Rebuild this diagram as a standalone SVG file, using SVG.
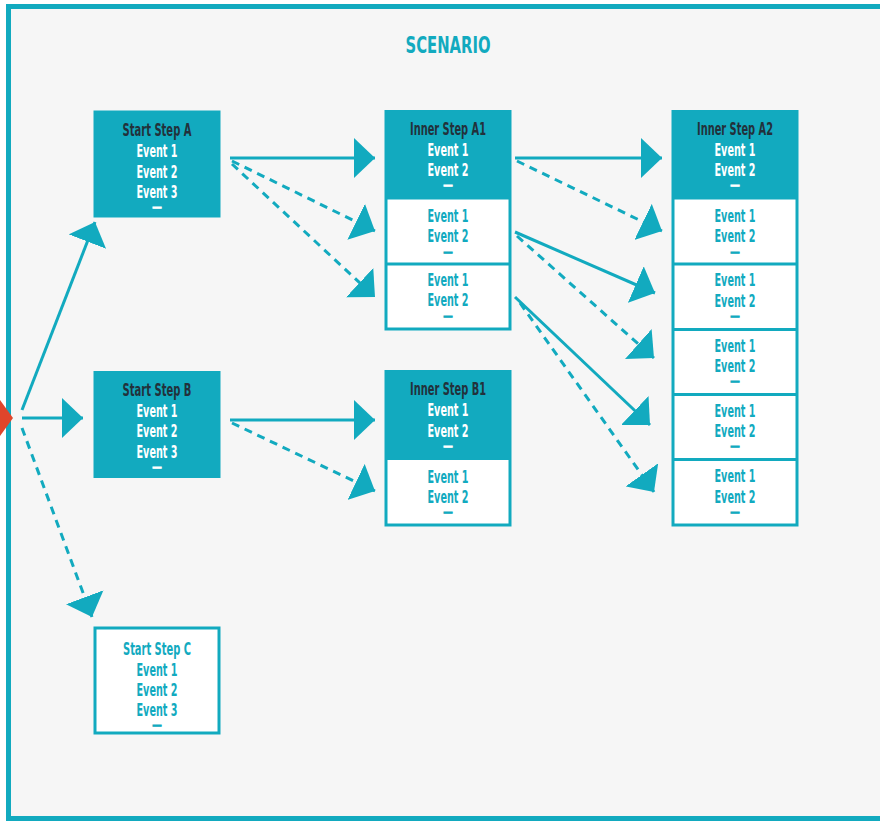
<svg xmlns="http://www.w3.org/2000/svg" width="880" height="822" viewBox="0 0 880 822">
<style>
.t{font-family:"DejaVu Sans Condensed","DejaVu Sans","Liberation Sans",sans-serif;font-weight:bold;font-size:17px;text-anchor:middle}
.dk{fill:#22313b}.w{fill:#ffffff}.tl{fill:#12aabf}
.d{font-size:8px;stroke-width:1}
.w.d{stroke:#ffffff}.tl.d{stroke:#12aabf}
.hd{fill:#12aabf}
.box{fill:#ffffff;stroke:#12aabf;stroke-width:3}
.sep{stroke:#12aabf;stroke-width:3}
.ln{stroke:#12aabf;stroke-width:3;fill:none;marker-end:url(#ah)}
.ds{stroke-dasharray:8 6}
</style>
<defs>
<marker id="ah" viewBox="0 0 21 40" refX="21" refY="20" markerWidth="21" markerHeight="40" markerUnits="userSpaceOnUse" orient="auto">
<path d="M0,0 L21,20 L0,40 z" fill="#12aabf"/>
</marker>
</defs>
<rect x="0" y="0" width="880" height="822" fill="#ffffff"/>
<rect x="8.5" y="6.5" width="900" height="812" fill="#f6f6f6" stroke="#12aabf" stroke-width="5"/>
<polygon points="0,400 13,418 0,436" fill="#e0452b"/>
<text class="t tl" x="448" y="53" style="font-size:23px" textLength="85" lengthAdjust="spacingAndGlyphs">SCENARIO</text>

<g id="connectors">
<line class="ln" x1="22" y1="410" x2="95" y2="222"/>
<line class="ln" x1="22" y1="418" x2="83" y2="418"/>
<line class="ln ds" x1="22" y1="428" x2="92" y2="617"/>
<line class="ln" x1="230" y1="158" x2="375" y2="158"/>
<line class="ln ds" x1="232" y1="161" x2="375" y2="231"/>
<line class="ln ds" x1="232" y1="164" x2="375" y2="297"/>
<line class="ln" x1="230" y1="420" x2="375" y2="420"/>
<line class="ln ds" x1="232" y1="423" x2="375" y2="491"/>
<line class="ln" x1="515" y1="158" x2="662" y2="158"/>
<line class="ln ds" x1="517" y1="161" x2="662" y2="231"/>
<line class="ln" x1="515" y1="232" x2="655" y2="293"/>
<line class="ln ds" x1="517" y1="236" x2="654" y2="358"/>
<line class="ln" x1="515" y1="297" x2="650" y2="425"/>
<line class="ln ds" x1="520" y1="303" x2="654" y2="492"/>
</g>

<g id="start-step-a">
<rect x="93.5" y="110.5" width="127" height="107" class="hd"/>
<text class="t dk" x="157" y="136" textLength="69" lengthAdjust="spacingAndGlyphs">Start Step A</text>
<text class="t w" x="157" y="157" textLength="41" lengthAdjust="spacingAndGlyphs">Event 1</text>
<text class="t w" x="157" y="178" textLength="41" lengthAdjust="spacingAndGlyphs">Event 2</text>
<text class="t w" x="157" y="198" textLength="41" lengthAdjust="spacingAndGlyphs">Event 3</text>
<text class="t w d" x="157" y="210" textLength="9" lengthAdjust="spacingAndGlyphs">—</text>
</g>

<g id="start-step-b">
<rect x="93.5" y="371" width="127" height="107" class="hd"/>
<text class="t dk" x="157" y="396" textLength="69" lengthAdjust="spacingAndGlyphs">Start Step B</text>
<text class="t w" x="157" y="417" textLength="41" lengthAdjust="spacingAndGlyphs">Event 1</text>
<text class="t w" x="157" y="437" textLength="41" lengthAdjust="spacingAndGlyphs">Event 2</text>
<text class="t w" x="157" y="458" textLength="41" lengthAdjust="spacingAndGlyphs">Event 3</text>
<text class="t w d" x="157" y="470" textLength="9" lengthAdjust="spacingAndGlyphs">—</text>
</g>

<g id="start-step-c">
<rect x="95" y="628" width="124" height="105" class="box"/>
<text class="t tl" x="157" y="655" textLength="68" lengthAdjust="spacingAndGlyphs">Start Step C</text>
<text class="t tl" x="157" y="676" textLength="41" lengthAdjust="spacingAndGlyphs">Event 1</text>
<text class="t tl" x="157" y="696" textLength="41" lengthAdjust="spacingAndGlyphs">Event 2</text>
<text class="t tl" x="157" y="716" textLength="41" lengthAdjust="spacingAndGlyphs">Event 3</text>
<text class="t tl d" x="157" y="728" textLength="9" lengthAdjust="spacingAndGlyphs">—</text>
</g>

<g id="inner-step-a1">
<rect x="386" y="111.5" width="124" height="217.5" class="box"/>
<rect x="386" y="111.5" width="124" height="88" class="hd"/>
<line x1="386" y1="264" x2="510" y2="264" class="sep"/>
<text class="t dk" x="448" y="135" textLength="76" lengthAdjust="spacingAndGlyphs">Inner Step A1</text>
<text class="t w" x="448" y="156" textLength="41" lengthAdjust="spacingAndGlyphs">Event 1</text>
<text class="t w" x="448" y="176" textLength="41" lengthAdjust="spacingAndGlyphs">Event 2</text>
<text class="t w d" x="448" y="188" textLength="9" lengthAdjust="spacingAndGlyphs">—</text>
<text class="t tl" x="448" y="222" textLength="41" lengthAdjust="spacingAndGlyphs">Event 1</text>
<text class="t tl" x="448" y="242" textLength="41" lengthAdjust="spacingAndGlyphs">Event 2</text>
<text class="t tl d" x="448" y="255" textLength="9" lengthAdjust="spacingAndGlyphs">—</text>
<text class="t tl" x="448" y="286" textLength="41" lengthAdjust="spacingAndGlyphs">Event 1</text>
<text class="t tl" x="448" y="306" textLength="41" lengthAdjust="spacingAndGlyphs">Event 2</text>
<text class="t tl d" x="448" y="319" textLength="9" lengthAdjust="spacingAndGlyphs">—</text>
</g>

<g id="inner-step-b1">
<rect x="386" y="371.5" width="124" height="153.5" class="box"/>
<rect x="386" y="371.5" width="124" height="88.5" class="hd"/>
<text class="t dk" x="448" y="395" textLength="76" lengthAdjust="spacingAndGlyphs">Inner Step B1</text>
<text class="t w" x="448" y="416" textLength="41" lengthAdjust="spacingAndGlyphs">Event 1</text>
<text class="t w" x="448" y="437" textLength="41" lengthAdjust="spacingAndGlyphs">Event 2</text>
<text class="t w d" x="448" y="449" textLength="9" lengthAdjust="spacingAndGlyphs">—</text>
<text class="t tl" x="448" y="483" textLength="41" lengthAdjust="spacingAndGlyphs">Event 1</text>
<text class="t tl" x="448" y="503" textLength="41" lengthAdjust="spacingAndGlyphs">Event 2</text>
<text class="t tl d" x="448" y="515" textLength="9" lengthAdjust="spacingAndGlyphs">—</text>
</g>

<g id="inner-step-a2">
<rect x="673" y="111.5" width="124" height="413.5" class="box"/>
<rect x="673" y="111.5" width="124" height="88" class="hd"/>
<line x1="673" y1="264" x2="797" y2="264" class="sep"/>
<line x1="673" y1="329.5" x2="797" y2="329.5" class="sep"/>
<line x1="673" y1="394.5" x2="797" y2="394.5" class="sep"/>
<line x1="673" y1="459.5" x2="797" y2="459.5" class="sep"/>
<text class="t dk" x="735" y="135" textLength="76" lengthAdjust="spacingAndGlyphs">Inner Step A2</text>
<text class="t w" x="735" y="156" textLength="41" lengthAdjust="spacingAndGlyphs">Event 1</text>
<text class="t w" x="735" y="176" textLength="41" lengthAdjust="spacingAndGlyphs">Event 2</text>
<text class="t w d" x="735" y="188" textLength="9" lengthAdjust="spacingAndGlyphs">—</text>
<text class="t tl" x="735" y="222" textLength="41" lengthAdjust="spacingAndGlyphs">Event 1</text>
<text class="t tl" x="735" y="242" textLength="41" lengthAdjust="spacingAndGlyphs">Event 2</text>
<text class="t tl d" x="735" y="255" textLength="9" lengthAdjust="spacingAndGlyphs">—</text>
<text class="t tl" x="735" y="286" textLength="41" lengthAdjust="spacingAndGlyphs">Event 1</text>
<text class="t tl" x="735" y="307" textLength="41" lengthAdjust="spacingAndGlyphs">Event 2</text>
<text class="t tl d" x="735" y="319" textLength="9" lengthAdjust="spacingAndGlyphs">—</text>
<text class="t tl" x="735" y="352" textLength="41" lengthAdjust="spacingAndGlyphs">Event 1</text>
<text class="t tl" x="735" y="372" textLength="41" lengthAdjust="spacingAndGlyphs">Event 2</text>
<text class="t tl d" x="735" y="384" textLength="9" lengthAdjust="spacingAndGlyphs">—</text>
<text class="t tl" x="735" y="417" textLength="41" lengthAdjust="spacingAndGlyphs">Event 1</text>
<text class="t tl" x="735" y="437" textLength="41" lengthAdjust="spacingAndGlyphs">Event 2</text>
<text class="t tl d" x="735" y="449" textLength="9" lengthAdjust="spacingAndGlyphs">—</text>
<text class="t tl" x="735" y="482" textLength="41" lengthAdjust="spacingAndGlyphs">Event 1</text>
<text class="t tl" x="735" y="503" textLength="41" lengthAdjust="spacingAndGlyphs">Event 2</text>
<text class="t tl d" x="735" y="515" textLength="9" lengthAdjust="spacingAndGlyphs">—</text>
</g>
</svg>
